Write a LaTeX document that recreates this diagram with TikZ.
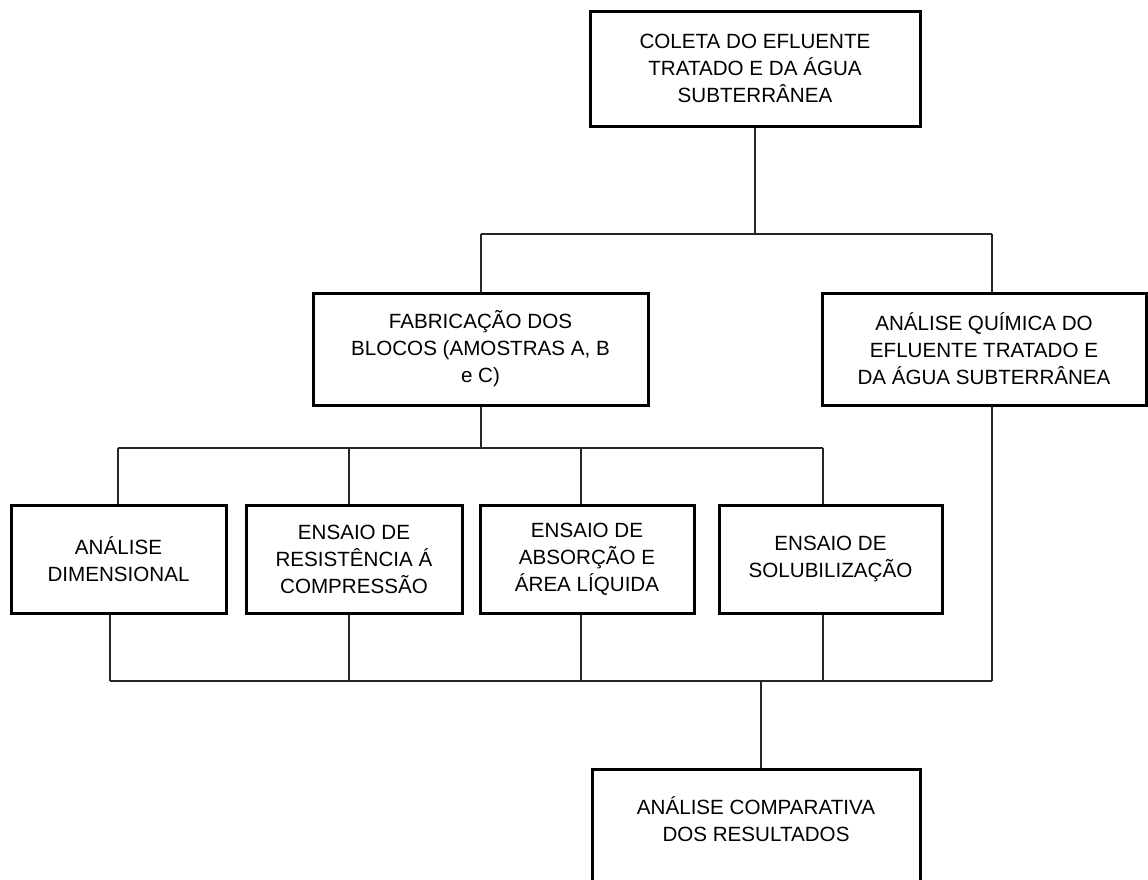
\documentclass[tikz,border=0pt]{standalone}
\usepackage{fontspec}
\setmainfont{Liberation Sans}
\begin{document}
\begin{tikzpicture}[x=1pt,y=-1pt,
  box/.style={draw=black, line width=3pt, fill=white, align=center, inner sep=0pt,
    font=\fontsize{20.6pt}{27pt}\selectfont, text=black},
  conn/.style={draw=black!85, line width=1.4pt}]
\useasboundingbox (0,0) rectangle (1148,879);
\begin{scope}
\clip (0,0) rectangle (1148,879);
% boxes
\node[box, minimum width=330pt, minimum height=115pt] (top) at (755,68.5)
  {COLETA DO EFLUENTE\\TRATADO E DA ÁGUA\\SUBTERRÂNEA};
\node[box, minimum width=335pt, minimum height=112pt] (fab) at (480.5,349)
  {FABRICAÇÃO DOS\\BLOCOS (AMOSTRAS A, B\\e C)};
\node[box, minimum width=324pt, minimum height=112pt] (quim) at (984,349)
  {ANÁLISE QUÍMICA DO\\EFLUENTE TRATADO E\\DA ÁGUA SUBTERRÂNEA};
\node[box, minimum width=215pt, minimum height=108pt] (b1) at (118.5,559)
  {ANÁLISE\\DIMENSIONAL};
\node[box, minimum width=216pt, minimum height=108pt] (b2) at (354,559)
  {ENSAIO DE\\RESISTÊNCIA Á\\COMPRESSÃO};
\node[box, minimum width=214pt, minimum height=108pt] (b3) at (587,559)
  {ENSAIO DE\\ABSORÇÃO E\\ÁREA LÍQUIDA};
\node[box, minimum width=223pt, minimum height=108pt] (b4) at (830.5,559)
  {ENSAIO DE\\SOLUBILIZAÇÃO};
\node[box, minimum width=328pt, minimum height=135pt] (res) at (756,836.5)
  {ANÁLISE COMPARATIVA\\DOS RESULTADOS\\\strut};
% connector coordinates
\coordinate (t1) at (755,234);
\coordinate (tl) at (481,234);
\coordinate (tr) at (992,234);
\coordinate (m0) at (481,448);
\coordinate (m1) at (118,448);
\coordinate (m2) at (349,448);
\coordinate (m3) at (581,448);
\coordinate (m4) at (823,448);
\coordinate (l1) at (110,681);
\coordinate (l2) at (349,681);
\coordinate (l3) at (581,681);
\coordinate (l4) at (823,681);
\coordinate (l5) at (992,681);
\coordinate (lc) at (761,681);
% connectors
\draw[conn] (top.south -| t1) -- (t1);
\draw[conn] (tl) -- (tr);
\draw[conn] (tl) -- (tl |- fab.north);
\draw[conn] (tr) -- (tr |- quim.north);
\draw[conn] (fab.south -| m0) -- (m0);
\draw[conn] (m1) -- (m4);
\draw[conn] (m1) -- (m1 |- b1.north);
\draw[conn] (m2) -- (m2 |- b2.north);
\draw[conn] (m3) -- (m3 |- b3.north);
\draw[conn] (m4) -- (m4 |- b4.north);
\draw[conn] (l1 |- b1.south) -- (l1);
\draw[conn] (l2 |- b2.south) -- (l2);
\draw[conn] (l3 |- b3.south) -- (l3);
\draw[conn] (l4 |- b4.south) -- (l4);
\draw[conn] (l5 |- quim.south) -- (l5);
\draw[conn] (l1) -- (l5);
\draw[conn] (lc) -- (lc |- res.north);
\end{scope}
\end{tikzpicture}
\end{document}
